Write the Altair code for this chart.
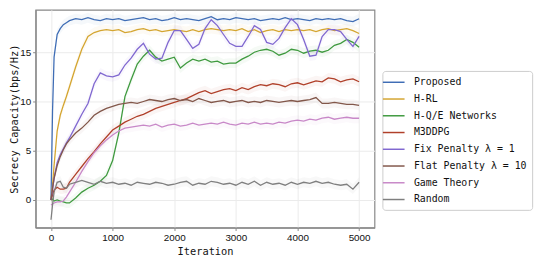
import altair as alt
import pandas as pd

iters = [0, 25, 50, 100, 150, 200, 250, 300] + list(range(400, 5001, 100))

names = ["Proposed", "H-RL", "H-Q/E Networks", "M3DDPG",
         "Fix Penalty λ = 1", "Flat Penalty λ = 10", "Game Theory", "Random"]
colors = ["#3f6db5", "#d4a530", "#3f9a3f", "#b0402a",
          "#8068d0", "#82574a", "#c888c8", "#7f7f7f"]

proposed = [0.0, 9.0, 14.5, 16.8, 17.4, 17.8, 18.0, 18.2, 18.4, 18.3, 18.5, 18.3, 18.2, 18.4, 18.3,
            18.4, 18.2, 18.3, 18.4, 18.5, 18.3, 18.4, 18.2, 18.3, 18.5, 18.3, 18.4, 18.3, 18.2, 18.4,
            18.6, 18.3, 18.4, 18.3, 18.5, 18.4, 18.3, 18.4, 18.2, 18.3, 18.4, 18.3, 18.5, 18.3, 18.4,
            18.3, 18.2, 18.4, 18.3, 18.4, 18.3, 18.4, 18.2, 18.1, 18.4]
h_rl = [0.0, 1.5, 3.5, 7.0, 8.6, 9.6, 10.5, 11.5, 13.5, 15.3, 16.6, 17.0, 17.2, 17.3, 17.2,
        17.3, 17.0, 17.1, 17.3, 17.4, 17.2, 17.3, 17.1, 17.2, 17.3, 17.2, 17.1, 17.3, 17.1, 17.3,
        17.4, 17.3, 17.2, 17.3, 17.2, 17.4, 17.1, 17.3, 17.0, 17.2, 17.3, 17.1, 17.3, 17.2, 17.3,
        17.2, 17.3, 17.1, 17.3, 17.4, 17.2, 17.3, 17.4, 17.2, 16.9]
hqe = [0.0, 0.1, -0.1, 0.0, -0.1, -0.2, -0.3, -0.3, 0.2, 0.8, 1.2, 1.5, 1.9, 2.5, 4.0,
       6.8, 10.5, 12.2, 13.8, 14.6, 15.2, 14.5, 14.1, 14.3, 14.5, 13.4, 13.9, 14.3, 14.1, 14.3,
       14.0, 14.1, 13.8, 13.9, 13.9, 14.3, 14.6, 15.0, 15.2, 15.3, 15.1, 14.7, 14.9, 15.3, 15.2,
       14.9, 15.1, 15.2, 15.0, 15.2, 15.7, 15.9, 16.3, 16.0, 15.5]
m3ddpg = [0.0, 0.5, 1.0, 1.3, 1.1, 1.1, 1.2, 1.8, 2.6, 3.4, 4.2, 4.9, 5.7, 6.4, 7.1,
          7.5, 7.9, 8.2, 8.5, 8.7, 9.0, 9.3, 9.5, 9.7, 9.9, 10.1, 10.3, 10.6, 10.9, 11.1,
          10.8, 11.0, 11.2, 11.3, 11.1, 11.4, 11.2, 11.5, 11.7, 11.6, 11.8, 11.7, 11.5, 11.8, 11.9,
          11.7, 11.9, 12.1, 12.0, 12.4, 12.3, 12.0, 12.2, 12.3, 12.0]
fix_pen = [0.0, 1.0, 2.2, 3.8, 4.6, 5.2, 5.8, 6.3, 7.5, 8.7, 9.8, 11.8, 12.9, 12.6, 12.5,
           12.7, 13.7, 14.4, 15.3, 15.9, 14.8, 14.3, 14.4, 16.0, 17.2, 17.2, 16.3, 15.4, 15.8, 17.4,
           18.3, 17.7, 16.8, 15.9, 15.6, 15.6, 16.6, 17.7, 17.3, 16.0, 15.8, 16.4, 17.5, 18.4, 17.8,
           16.3, 14.6, 14.7, 16.6, 17.3, 17.3, 17.1, 16.3, 15.6, 16.6]
flat_pen = [0.0, 1.2, 2.2, 3.5, 4.4, 5.1, 5.7, 6.1, 6.8, 7.3, 7.9, 8.6, 9.0, 9.3, 9.5,
            9.7, 9.8, 9.9, 9.8, 10.0, 10.2, 10.1, 10.0, 10.2, 10.3, 10.1, 10.2, 10.0, 10.3, 10.1,
            9.9, 10.0, 10.1, 9.9, 10.0, 10.1, 9.9, 10.0, 9.9, 10.1, 10.0, 9.9, 10.0, 10.1, 10.0,
            10.1, 10.2, 10.4, 9.8, 9.8, 9.9, 9.8, 9.7, 9.7, 9.6]
game = [-0.5, -0.4, -0.3, -0.2, -0.2, -0.1, 0.3, 0.8, 1.8, 2.9, 3.9, 4.8, 5.5, 6.1, 6.6,
        7.0, 7.3, 7.4, 7.5, 7.6, 7.5, 7.7, 7.4, 7.6, 7.7, 7.5, 7.6, 7.8, 7.6, 7.7,
        7.8, 7.7, 7.9, 7.7, 7.6, 7.8, 7.7, 7.9, 7.7, 7.8, 7.7, 7.9, 7.8, 8.0, 8.1,
        8.0, 8.2, 8.1, 8.3, 8.4, 8.2, 8.3, 8.4, 8.3, 8.3]
rand = [-2.0, -0.5, 0.8, 1.8, 1.9, 1.3, 1.2, 1.6, 1.8, 2.0, 1.8, 1.6, 1.9, 1.7, 1.8,
        1.6, 1.7, 1.5, 1.8, 1.7, 1.6, 1.8, 1.7, 1.5, 1.6, 1.8, 1.9, 1.5, 1.7, 1.6,
        1.9, 1.8, 1.6, 1.7, 1.5, 1.8, 1.6, 1.9, 1.5, 1.8, 1.6, 1.7, 1.5, 1.8, 1.6,
        1.8, 1.7, 1.9, 1.7, 1.8, 1.6, 1.5, 1.6, 1.1, 1.8]

all_vals = [proposed, h_rl, hqe, m3ddpg, fix_pen, flat_pen, game, rand]

rows = []
for k, (name, vals) in enumerate(zip(names, all_vals)):
    for it, v in zip(iters, vals):
        rows.append({"iter": it, "v": v, "series": name, "k": k,
                     "lo": v - 0.5, "hi": v + 0.5})
df = pd.DataFrame(rows)

xscale = alt.Scale(domain=[-250, 5250], nice=False, zero=False)
yscale = alt.Scale(domain=[-2.8, 19.3], nice=False, zero=False)
cscale = alt.Scale(domain=names, range=colors)

legend = alt.Legend(title=None, orient="none", legendX=352, legendY=62,
                    symbolType="M-2,0L2,0", symbolSize=121,
                    symbolStrokeWidth=1.5, symbolFillColor="transparent",
                    labelFont="DejaVu Sans Mono", labelFontSize=10,
                    labelColor="#111", labelOffset=14, rowPadding=5,
                    padding=5, fillColor="white", strokeColor="#cccccc",
                    cornerRadius=3, labelLimit=200)

yaxis = alt.Axis(values=[0, 5, 10, 15], title="Secrecy Capacity(bps/Hz)", titlePadding=0)
xenc = alt.X("iter:Q", scale=xscale,
             axis=alt.Axis(values=[0, 1000, 2000, 3000, 4000, 5000], title="Iteration",
                           format="d", titlePadding=4))

bands = alt.Chart(df).mark_area(opacity=0.05, clip=True).encode(
    x=xenc,
    y=alt.Y("lo:Q", scale=yscale, axis=yaxis, title="Secrecy Capacity(bps/Hz)"),
    y2="hi:Q",
    fill=alt.Fill("series:N", scale=cscale, legend=None),
    detail="series:N",
)

lines = alt.Chart(df).mark_line(strokeWidth=1.3, clip=True).encode(
    x=xenc,
    y=alt.Y("v:Q", scale=yscale, axis=yaxis, title="Secrecy Capacity(bps/Hz)"),
    color=alt.Color("series:N", scale=cscale, sort=names, legend=legend),
    order="iter:Q",
)

chart = alt.layer(bands, lines).resolve_scale(fill="independent").properties(
    width=344, height=221,
    autosize=alt.AutoSizeParams(type="none"),
    padding={"left": 28, "top": 0, "right": 170, "bottom": 31},
).configure_view(
    stroke="#888888", strokeWidth=1.2
).configure_axis(
    labelFont="Liberation Sans", labelFontSize=10, labelColor="#111",
    titleFont="DejaVu Sans Mono", titleFontSize=10.5, titleFontWeight="normal", titleColor="#111",
    domainColor="#888888", domainWidth=1.2, tickColor="#888888", tickSize=3,
    gridColor="#ebebeb", labelPadding=2,
)

chart.save("out.html", embed_options={"renderer": "svg", "actions": False})
